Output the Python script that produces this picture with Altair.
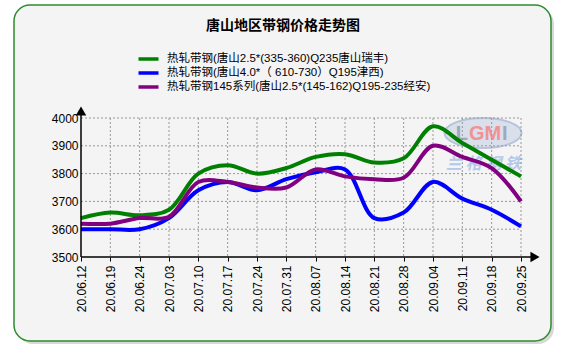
import altair as alt
import pandas as pd

dates = ["20.06.12", "20.06.19", "20.06.24", "20.07.03", "20.07.10", "20.07.17",
         "20.07.24", "20.07.31", "20.08.07", "20.08.14", "20.08.21", "20.08.28",
         "20.09.04", "20.09.11", "20.09.18", "20.09.25"]
series_names = ["热轧带钢(唐山2.5*(335-360)Q235唐山瑞丰)",
                "热轧带钢(唐山4.0*（ 610-730）Q195津西)",
                "热轧带钢145系列(唐山2.5*(145-162)Q195-235经安)"]
green_vals = [3640, 3660, 3650, 3670, 3800, 3830, 3800, 3820, 3860, 3870, 3840, 3855, 3970, 3910, 3850, 3790]
blue_vals = [3600, 3600, 3600, 3640, 3740, 3770, 3740, 3780, 3805, 3815, 3640, 3660, 3770, 3710, 3670, 3610]
purple_vals = [3620, 3620, 3640, 3645, 3770, 3770, 3750, 3750, 3815, 3790, 3780, 3785, 3900, 3860, 3820, 3700]
colors = ["#008000", "#0000ff", "#800080"]
y_ticks = [3500, 3600, 3700, 3800, 3900, 4000]
title_text = "唐山地区带钢价格走势图"
wm_parts = ["L", "GM", "I"]
wm_colors = ["#9aa3b5", "#f28b8b", "#9aa3b5"]
watermark_cn = "兰 格 钢 铁"

FONT = "Liberation Sans, Arial, Noto Sans CJK SC"
W, H = 440, 139

rows = []
for name, vals in zip(series_names, [green_vals, blue_vals, purple_vals]):
    for d, v in zip(dates, vals):
        rows.append({"date": d, "price": v, "series": name})
df = pd.DataFrame(rows)

xs = alt.Scale(type="point", domain=dates, padding=0)
ys = alt.Scale(domain=[3500, 4000], nice=False, zero=False)

x_axis = alt.Axis(title=None, labelAngle=-90, labelFontSize=12, labelFont=FONT,
                  labelColor="#000", domain=False, grid=False, ticks=True,
                  tickSize=4, tickColor="#000", labelPadding=4, zindex=2,
                  labelOverlap=False)
y_axis = alt.Axis(title=None, values=y_ticks, format="d", labelFontSize=12, labelFont=FONT,
                  labelColor="#000", domain=False, grid=False, ticks=False,
                  labelPadding=3, zindex=2, labelOverlap=False)

one = pd.DataFrame({"k": [0]})

shadow = alt.Chart(one).mark_rect(cornerRadius=16, fill="#c8c8c8", opacity=0.7).encode(
    x=alt.value(-64), x2=alt.value(473), y=alt.value(-110), y2=alt.value(226))
panel = alt.Chart(one).mark_rect(cornerRadius=16, fill="#f4f4f4", stroke="#2e8b2e", strokeWidth=1.5).encode(
    x=alt.value(-67), x2=alt.value(470), y=alt.value(-113), y2=alt.value(223))

ellipse = alt.Chart(one).mark_point(
    shape="M-1,0a1,0.39 0 1,0 2,0a1,0.39 0 1,0 -2,0", size=5929, filled=True,
    fill="#d3dbea", stroke="#a9b7d4", strokeWidth=2, opacity=0.8).encode(
    x=alt.value(402), y=alt.value(15))

wm_pos = [(387, "right"), (388, "left"), (421, "left")]
wm_layers = []
for txt, col, (px, al) in zip(wm_parts, wm_colors, wm_pos):
    wm_layers.append(alt.Chart(pd.DataFrame({"t": [txt]})).mark_text(
        font="Liberation Sans", fontSize=20, fontWeight="bold", color=col, opacity=0.9,
        align=al, baseline="middle").encode(text="t:N", x=alt.value(px), y=alt.value(16)))
wm2 = alt.Chart(pd.DataFrame({"t": [watermark_cn]})).mark_text(
    font="Noto Sans CJK SC", fontSize=16, fontStyle="italic", fontWeight="bold", color="#afc4e8", opacity=0.9,
    align="center", baseline="middle").encode(text="t:N", x=alt.value(402.5), y=alt.value(45.5))

ygrid = alt.Chart(pd.DataFrame({"v": y_ticks[1:]})).mark_rule(
    color="#999999", strokeDash=[2, 2], strokeWidth=1).encode(
    y=alt.Y("v:Q", scale=ys, axis=y_axis), x=alt.value(0), x2=alt.value(W))
xgrid = alt.Chart(pd.DataFrame({"date": dates[1:]})).mark_rule(
    color="#999999", strokeDash=[2, 2], strokeWidth=1).encode(
    x=alt.X("date:O", scale=xs, axis=x_axis), y=alt.value(0), y2=alt.value(H))

lines = alt.Chart(df).mark_line(interpolate="catmull-rom", strokeWidth=4).encode(
    x=alt.X("date:O", scale=xs, axis=x_axis),
    y=alt.Y("price:Q", scale=ys, axis=y_axis),
    color=alt.Color("series:N", sort=series_names,
                    scale=alt.Scale(domain=series_names, range=colors),
                    legend=alt.Legend(title=None, orient="none", legendX=60.5, legendY=-66,
                                      symbolType="M-2,0H2", symbolSize=100, symbolStrokeWidth=3.5,
                                      labelFontSize=11.5, labelFont=FONT, labelColor="#000",
                                      rowPadding=0, padding=0, labelOffset=11.5,
                                      labelLimit=400)),
)

yaxis = alt.Chart(one).mark_rule(color="#000", strokeWidth=1.5).encode(
    x=alt.value(0), y=alt.value(-6), y2=alt.value(H))
xaxis = alt.Chart(one).mark_rule(color="#000", strokeWidth=1.5).encode(
    x=alt.value(0), x2=alt.value(450), y=alt.value(H))
yarrow = alt.Chart(one).mark_point(shape="triangle-up", filled=True, color="#000", size=110, opacity=1).encode(
    x=alt.value(0), y=alt.value(-7))
xarrow = alt.Chart(one).mark_point(shape="triangle-right", filled=True, color="#000", size=110, opacity=1).encode(
    x=alt.value(454), y=alt.value(H))

title = alt.Chart(pd.DataFrame({"t": [title_text]})).mark_text(
    font="Noto Sans CJK SC", fontSize=14, fontWeight="bold", color="#000", align="center", baseline="middle").encode(
    text="t:N", x=alt.value(202), y=alt.value(-92))

chart = alt.layer(shadow, panel, ellipse, *wm_layers, wm2, ygrid, xgrid, lines,
                  yaxis, xaxis, yarrow, xarrow, title).properties(
    width=W, height=H,
    autosize=alt.AutoSizeParams(type="none"),
    padding={"left": 81, "top": 118, "right": 42, "bottom": 98},
).configure_view(stroke=None).configure(background="white")

chart.save("out.html", embed_options={"renderer": "svg", "actions": False})
